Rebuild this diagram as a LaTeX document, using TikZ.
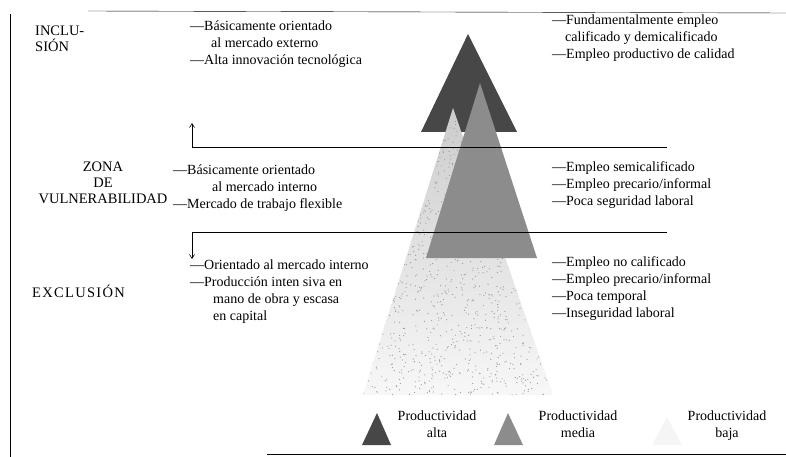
\documentclass[tikz,border=0pt]{standalone}
\usepackage{fontspec}
\setmainfont{Liberation Serif}
\newfontfamily\espaciada[LetterSpace=9]{Liberation Serif}
\usetikzlibrary{arrows.meta}

\tikzset{
    lista/.style={anchor=north west, inner sep=0pt, align=left, font=\fontsize{14}{17}\selectfont},
    zona/.style={inner sep=0pt, align=left, font=\fontsize{14.5}{16}\selectfont},
    leyenda/.style={anchor=north, inner sep=0pt, align=center, font=\fontsize{14}{17}\selectfont},
    alta/.style={fill=black!72},
    media/.style={fill=black!45},
    baja/.style={top color=black!20, bottom color=black!3},
    flecha/.style={-{Straight Barb[length=4pt,width=5pt]}, line width=0.6pt}
}

\begin{document}
\begin{tikzpicture}[x=1pt,y=-1pt]
    \useasboundingbox (0,0) rectangle (786,457);
    % marco
    \draw (10,14) -- (10,457);
    \draw (88,11) -- (786,13);
    \draw (267,454) -- (786,454);

    % triangulos
    \fill[alta] (468,34) -- (517,132) -- (421,132) -- cycle;
    \begin{scope}
        \clip (453,108) -- (553,395) -- (363,395) -- cycle;
        \shade[baja] (363,108) rectangle (553,395);
        \pgfmathsetseed{7}
        \foreach \i in {1,...,1400}
            \fill[black!40] ({363+190*rnd},{108+287*rnd}) circle (0.6pt);
    \end{scope}
    \fill[media] (480,83) -- (537,258) -- (426,258) -- cycle;

    % limites de las zonas
    \coordinate (arr-izq) at (192,147);
    \coordinate (arr-der) at (667,147);
    \coordinate (arr-tip) at (192,123);
    \coordinate (aba-izq) at (192,232);
    \coordinate (aba-der) at (667,232);
    \coordinate (aba-tip) at (192,259);
    \draw[flecha] (arr-der) -- (arr-izq) -- (arr-tip);
    \draw[flecha] (aba-der) -- (aba-izq) -- (aba-tip);

    % zonas
    \node[zona, anchor=north west] (inclusion) at (35,26) {INCLU-\\SIÓN};
    \node[zona, anchor=north, align=center] (vulnerab) at (103,162) {ZONA\\DE\\VULNERABILIDAD};
    \node[zona, anchor=base west, font=\fontsize{14.5}{16}\espaciada] (exclusion) at (32,297) {EXCLUSIÓN};

    % caracteristicas
    \node[lista] (inc-izq) at (190,21) {—Básicamente orientado\\\hspace{21pt}al mercado externo\\—Alta innovación tecnológica};
    \node[lista] (inc-der) at (552,15) {—Fundamentalmente empleo\\\hspace{13pt}calificado y demicalificado\\—Empleo productivo de calidad};
    \node[lista] (vul-izq) at (173,165) {—Básicamente orientado\\\hspace{39pt}al mercado interno\\—Mercado de trabajo flexible};
    \node[lista] (vul-der) at (552,161) {—Empleo semicalificado\\—Empleo precario/informal\\—Poca seguridad laboral};
    \node[lista] (exc-izq) at (190,260) {—Orientado al mercado interno\\—Producción inten siva en\\\hspace{23pt}mano de obra y escasa\\\hspace{23pt}en capital};
    \node[lista] (exc-der) at (552,256) {—Empleo no calificado\\—Empleo precario/informal\\—Poca temporal\\—Inseguridad laboral};

    % leyenda
    \fill[alta] (377,413) -- (391,445) -- (362,445) -- cycle;
    \fill[media] (508,413) -- (523,445) -- (494,445) -- cycle;
    \fill[black!4] (667,417) -- (682,445) -- (652,445) -- cycle;
    \node[leyenda] (ley-alta) at (437,411) {Productividad\\alta};
    \node[leyenda] (ley-media) at (578,411) {Productividad\\media};
    \node[leyenda] (ley-baja) at (727,411) {Productividad\\baja};
\end{tikzpicture}
\end{document}
